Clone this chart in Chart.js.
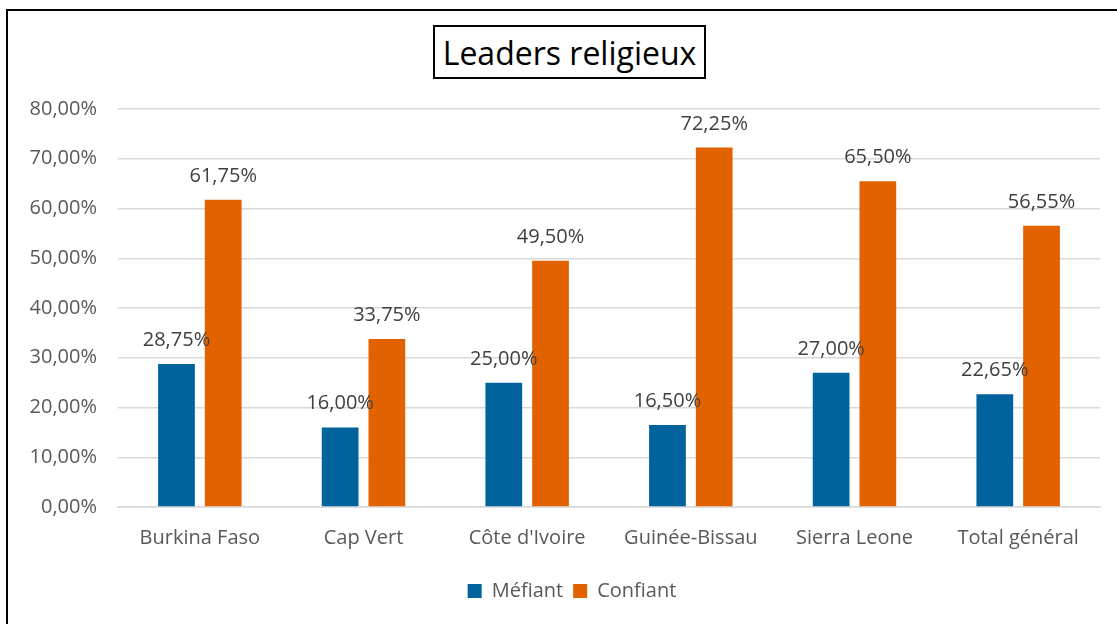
<!DOCTYPE html>
<html>
<head>
<meta charset="utf-8">
<script src="https://cdn.jsdelivr.net/npm/chart.js@4/dist/chart.umd.min.js"></script>
<style>
  html, body { margin: 0; padding: 0; background: #fff; }
  #wrap { position: relative; width: 1117px; height: 624px; overflow: hidden; }
  #frame { position: absolute; left: 6px; top: 9px; width: 1200px; height: 700px;
           border-left: 2px solid #000; border-top: 2px solid #000; box-sizing: border-box; }
  #title { position: absolute; left: 433px; top: 25px; width: 273px; height: 54px;
           border: 2px solid #000; box-sizing: border-box; background: #fff;
           font-family: "Open Sans", sans-serif; font-size: 32px; color: #000;
           display: flex; align-items: center; justify-content: center; z-index: 2; }
  canvas { position: absolute; left: 0; top: 0; }
</style>
</head>
<body>
<div id="wrap">
  <div id="frame"></div>
  <canvas id="c" width="1117" height="624"></canvas>
  <div id="title">Leaders religieux</div>
</div>
<script>
const categories = ["Burkina Faso", "Cap Vert", "Côte d'Ivoire", "Guinée-Bissau", "Sierra Leone", "Total général"];
const mefiant = [28.75, 16.00, 25.00, 16.50, 27.00, 22.65];
const confiant = [61.75, 33.75, 49.50, 72.25, 65.50, 56.55];
const seriesNames = ["Méfiant", "Confiant"];
const yTicks = [0, 10, 20, 30, 40, 50, 60, 70, 80];

const fmt = v => v.toFixed(2).replace('.', ',') + '%';
const FONT = '"Open Sans", sans-serif';

const dataLabels = {
  id: 'dataLabels',
  afterDatasetsDraw(chart) {
    const ctx = chart.ctx;
    ctx.save();
    ctx.font = '20px ' + FONT;
    ctx.fillStyle = '#404040';
    ctx.textAlign = 'center';
    ctx.textBaseline = 'alphabetic';
    chart.data.datasets.forEach((ds, i) => {
      const meta = chart.getDatasetMeta(i);
      meta.data.forEach((bar, j) => {
        ctx.fillText(fmt(ds.data[j]), bar.x, bar.y - 18);
      });
    });
    ctx.restore();
  }
};

const legendShift = {
  id: 'legendShift',
  afterLayout(chart) {
    if (chart.legend) { chart.legend.left = 44; }
  }
};

new Chart(document.getElementById('c'), {
  type: 'bar',
  data: {
    labels: categories,
    datasets: [
      { label: seriesNames[0], data: mefiant, backgroundColor: '#00639E', borderWidth: 0,
        categoryPercentage: 0.571, barPercentage: 0.786 },
      { label: seriesNames[1], data: confiant, backgroundColor: '#E36200', borderWidth: 0,
        categoryPercentage: 0.571, barPercentage: 0.786 }
    ]
  },
  options: {
    responsive: false,
    animation: false,
    devicePixelRatio: 1,
    layout: { padding: { left: 0, right: 17, top: 109, bottom: 13 } },
    scales: {
      y: {
        min: 0, max: 80,
        afterBuildTicks: s => { s.ticks = yTicks.map(v => ({ value: v })); },
        afterFit: s => { s.width = 118; },
        ticks: { padding: 21, color: '#595959', font: { family: FONT, size: 20 },
                 callback: v => fmt(v) },
        grid: { color: '#D9D9D9', lineWidth: 1.5, drawTicks: false },
        border: { display: false }
      },
      x: {
        afterFit: s => { s.height = 64; },
        ticks: { padding: 19, color: '#595959', font: { family: FONT, size: 20 } },
        grid: { display: false, drawTicks: false },
        border: { color: '#D9D9D9', width: 1.5 }
      }
    },
    plugins: {
      legend: {
        position: 'bottom',
        labels: { boxWidth: 14, boxHeight: 14, padding: 10, color: '#595959',
                  font: { family: FONT, size: 20 } }
      },
      tooltip: { enabled: false },
      title: { display: false }
    }
  },
  plugins: [dataLabels, legendShift]
});
</script>
</body>
</html>
